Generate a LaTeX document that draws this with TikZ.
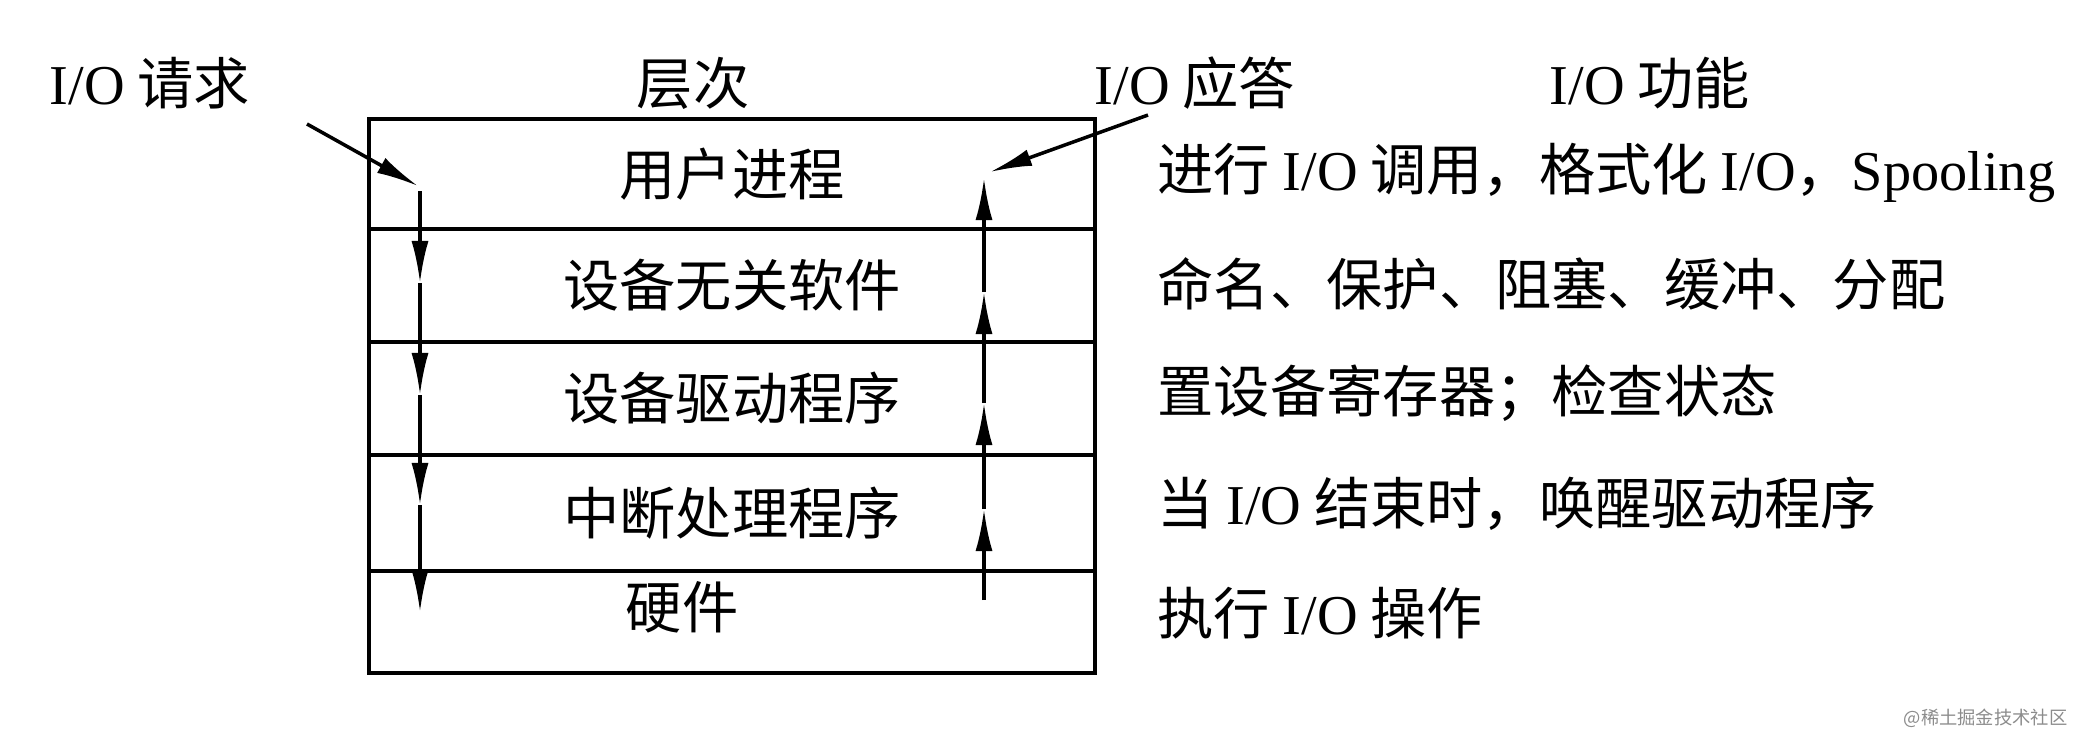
\documentclass[tikz,border=0pt]{standalone}
\usepackage{fontspec}
\setmainfont{Liberation Serif}
\newfontfamily\cjkfont{Noto Sans CJK SC}
\usetikzlibrary{arrows.meta}
\newcommand\lat[1]{{\fontsize{16}{19}\selectfont\rmfamily #1}}
\begin{document}
\begin{tikzpicture}[x=0.01cm, y=-0.01cm,
  txt/.style={font=\fontsize{16}{19}\selectfont\cjkfont, inner sep=0pt},
  layer/.style={draw, line width=1.1pt, minimum width=7.26cm, inner sep=0pt, anchor=north west, txt},
  arr/.style={line width=1pt, -{Latex[length=0.42cm, width=0.17cm]}}]
\useasboundingbox (0,0) rectangle (2090,750);
% layers
\node[layer, minimum height=1.10cm] (L1) at (367,117) {用户进程};
\node[layer, minimum height=1.13cm] (L2) at (367,227) {设备无关软件};
\node[layer, minimum height=1.13cm] (L3) at (367,340) {设备驱动程序};
\node[layer, minimum height=1.16cm] (L4) at (367,453) {中断处理程序};
\node[layer, minimum height=1.02cm] (L5) at (367,569) {};
\node[txt] (hw) at (682,607) {硬件};
% headings
\node[txt] (req) at (150,83) {\lat{I/O} 请求};
\node[txt] (lvl) at (693,83) {层次};
\node[txt] (rsp) at (1195,83) {\lat{I/O} 应答};
\node[txt] (fun) at (1650,83) {\lat{I/O} 功能};
% functions
\node[txt, anchor=west] (f1) at (1157,173) {进行 \lat{I/O} 调用，格式化 \lat{I/O}，\lat{Spooling}};
\node[txt, anchor=west] (f2) at (1157,284) {命名、保护、阻塞、缓冲、分配};
\node[txt, anchor=west] (f3) at (1157,393) {置设备寄存器；检查状态};
\node[txt, anchor=west] (f4) at (1157,504) {当 \lat{I/O} 结束时，唤醒驱动程序};
\node[txt, anchor=west] (f5) at (1157,613) {执行 \lat{I/O} 操作};
% watermark
\node[font=\fontsize{5.2}{6}\selectfont\cjkfont, text=black!45, anchor=east, inner sep=0pt] (wm) at (2068,718) {@稀土掘金技术社区};
% request path
\coordinate (rq0) at (307,124);
\coordinate (rq1) at (418,186);
\coordinate (d0) at (420,191);
\coordinate (d1) at (420,283);
\coordinate (d2) at (420,395);
\coordinate (d3) at (420,505);
\coordinate (d4) at (420,612);
\draw[arr] (rq0) -- (rq1);
\draw[arr] (d0) -- (d1);
\draw[arr] (d1) -- (d2);
\draw[arr] (d2) -- (d3);
\draw[arr] (d3) -- (d4);
% response path
\coordinate (u0) at (984,600);
\coordinate (u1) at (984,509);
\coordinate (u2) at (984,403);
\coordinate (u3) at (984,292);
\coordinate (u4) at (984,178);
\coordinate (rs0) at (1148,115);
\coordinate (rs1) at (990,172);
\draw[arr] (u0) -- (u1);
\draw[arr] (u1) -- (u2);
\draw[arr] (u2) -- (u3);
\draw[arr] (u3) -- (u4);
\draw[arr] (rs0) -- (rs1);
\end{tikzpicture}
\end{document}
